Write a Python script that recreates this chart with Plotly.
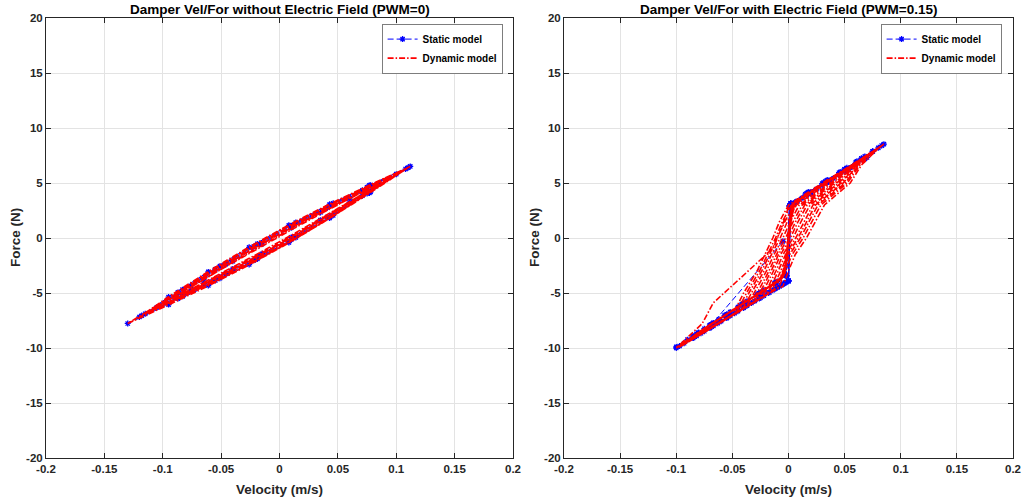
import plotly.graph_objects as go

# ================= Left panel (PWM = 0) =================
# static model: five hysteresis cycles (velocity m/s, force N)
vel_static_L = [
    -0.130, -0.095, -0.061, -0.026, 0.008, 0.043, 0.077, 0.112,
    0.077, 0.043, 0.008, -0.026, -0.061, -0.095,
    -0.120, -0.087, -0.055, -0.022, 0.010, 0.043, 0.075, 0.108,
    0.075, 0.043, 0.010, -0.022, -0.055, -0.087,
    -0.105, -0.076, -0.046, -0.017, 0.012, 0.041, 0.071, 0.100,
    0.071, 0.041, 0.012, -0.017, -0.046, -0.076,
    -0.090, -0.065, -0.040, -0.015, 0.010, 0.035, 0.060, 0.085,
    0.060, 0.035, 0.010, -0.015, -0.040, -0.065,
    -0.115, -0.083, -0.051, -0.019, 0.014, 0.046, 0.078, 0.110,
    0.078, 0.046, 0.014, -0.019, -0.051, -0.083, -0.118,
]
force_static_L = [
    -7.77, -6.05, -4.32, -2.41, -0.41, 1.82, 4.10, 6.51,
    4.78, 3.06, 1.15, -0.85, -3.08, -5.37,
    -7.18, -5.51, -3.86, -2.03, -0.14, 1.93, 4.05, 6.27,
    4.61, 2.95, 1.12, -0.77, -2.84, -4.95,
    -6.30, -4.82, -3.24, -1.63, 0.08, 1.89, 3.85, 5.80,
    4.33, 2.75, 1.14, -0.57, -2.38, -4.34,
    -5.41, -4.13, -2.81, -1.43, 0.05, 1.62, 3.25, 4.92,
    3.63, 2.32, 0.93, -0.55, -2.11, -3.75,
    -6.89, -5.30, -3.66, -1.90, 0.05, 2.06, 4.20, 6.39,
    4.80, 3.16, 1.41, -0.54, -2.56, -4.70, -7.05,
]

# dynamic model: eight cycles
vel_dyn_L = [
    -0.130, -0.095, -0.061, -0.026, 0.008, 0.043, 0.077, 0.112,
    0.077, 0.043, 0.008, -0.026, -0.061, -0.095,
    -0.120, -0.087, -0.055, -0.022, 0.010, 0.043, 0.075, 0.108,
    0.075, 0.043, 0.010, -0.022, -0.055, -0.087,
    -0.105, -0.076, -0.046, -0.017, 0.012, 0.041, 0.071, 0.100,
    0.071, 0.041, 0.012, -0.017, -0.046, -0.076,
    -0.090, -0.065, -0.040, -0.015, 0.010, 0.035, 0.060, 0.085,
    0.060, 0.035, 0.010, -0.015, -0.040, -0.065,
    -0.115, -0.083, -0.051, -0.019, 0.014, 0.046, 0.078, 0.110,
    0.078, 0.046, 0.014, -0.019, -0.051, -0.083,
    -0.130, -0.095, -0.061, -0.026, 0.008, 0.043, 0.077, 0.112,
    0.077, 0.043, 0.008, -0.026, -0.061, -0.095,
    -0.105, -0.076, -0.046, -0.017, 0.012, 0.041, 0.071, 0.100,
    0.071, 0.041, 0.012, -0.017, -0.046, -0.076,
    -0.115, -0.083, -0.051, -0.019, 0.014, 0.046, 0.078, 0.110,
    0.078, 0.046, 0.014, -0.019, -0.051, -0.083, -0.118,
]
force_dyn_L = [
    -7.77, -6.08, -4.36, -2.45, -0.45, 1.78, 4.07, 6.51,
    4.81, 3.10, 1.19, -0.81, -3.04, -5.34,
    -7.18, -5.55, -3.94, -2.13, -0.24, 1.85, 4.01, 6.27,
    4.65, 3.03, 1.22, -0.67, -2.76, -4.91,
    -6.30, -4.80, -3.20, -1.60, 0.10, 1.92, 3.88, 5.80,
    4.31, 2.72, 1.12, -0.59, -2.40, -4.36,
    -5.41, -4.09, -2.73, -1.33, 0.15, 1.70, 3.29, 4.92,
    3.59, 2.24, 0.83, -0.65, -2.19, -3.79,
    -6.89, -5.28, -3.62, -1.85, 0.10, 2.10, 4.22, 6.39,
    4.78, 3.12, 1.36, -0.59, -2.60, -4.72,
    -7.77, -5.90, -4.05, -2.07, -0.07, 2.09, 4.25, 6.51,
    4.63, 2.79, 0.81, -1.19, -3.35, -5.52,
    -6.30, -4.69, -3.01, -1.34, 0.37, 2.12, 3.98, 5.80,
    4.20, 2.52, 0.85, -0.86, -2.61, -4.47,
    -6.89, -5.34, -3.73, -2.00, -0.05, 1.99, 4.16, 6.39,
    4.84, 3.23, 1.51, -0.44, -2.49, -4.66, -7.05,
]

# ================= Right panel (PWM = 0.15) =================
vel_static_R = [
    -0.005, -0.068,
    -0.100, -0.085, -0.070, -0.055, -0.040, -0.025, -0.012, -0.003, 0.000,
    0.002, 0.015, 0.030, 0.045, 0.060, 0.075, 0.085,
    0.070, 0.055, 0.040, 0.025, 0.012, 0.003,
    -0.002, -0.012, -0.025, -0.040, -0.055, -0.070, -0.085,
    -0.093, -0.078, -0.063, -0.048, -0.033, -0.018, -0.008, -0.002, 0.000,
    0.002, 0.018, 0.034, 0.050, 0.065, 0.080,
    0.066, 0.050, 0.034, 0.018, 0.006, 0.001,
    -0.002, -0.010, -0.022, -0.037, -0.052, -0.067, -0.082,
    -0.085, -0.070, -0.055, -0.040, -0.026, -0.014, -0.005, 0.000,
    0.002, 0.016, 0.031, 0.046, 0.061, 0.075,
    0.060, 0.045, 0.030, 0.016, 0.005, 0.001,
    -0.002, -0.012, -0.026, -0.041, -0.056, -0.070,
    -0.075, -0.060, -0.045, -0.030, -0.017, -0.006, 0.000,
    0.002, 0.017, 0.033, 0.050, 0.065,
    0.050, 0.035, 0.020, 0.008, 0.001,
    -0.002, -0.012, -0.027, -0.042, -0.057, -0.075, -0.090,
    -0.097, -0.082, -0.067, -0.052, -0.037, -0.022, -0.010, -0.003, 0.000,
    0.002, 0.018, 0.035, 0.052, 0.068, 0.083,
    0.068, 0.052, 0.036, 0.020, 0.007, 0.001,
    -0.002, -0.012, -0.028, -0.045, -0.062, -0.080, -0.100,
]
force_static_R = [
    -0.30, -7.80,
    -10.00, -9.09, -8.17, -7.26, -6.34, -5.43, -4.63, -4.08, -3.90,
    3.13, 3.98, 4.95, 5.93, 6.90, 7.88, 8.53,
    7.33, 6.37, 5.41, 4.45, 3.62, 3.04,
    -3.43, -4.09, -4.95, -5.94, -6.93, -7.92, -8.91,
    -9.57, -8.66, -7.74, -6.83, -5.91, -5.00, -4.39, -4.02, -3.90,
    3.13, 4.17, 5.21, 6.25, 7.23, 8.20,
    7.07, 6.05, 5.03, 4.00, 3.23, 2.91,
    -3.43, -3.96, -4.75, -5.74, -6.73, -7.72, -8.71,
    -9.09, -8.17, -7.26, -6.34, -5.49, -4.75, -4.21, -3.90,
    3.13, 4.04, 5.02, 5.99, 6.97, 7.88,
    6.69, 5.73, 4.77, 3.87, 3.17, 2.91,
    -3.43, -4.09, -5.02, -6.01, -7.00, -7.92,
    -8.48, -7.56, -6.65, -5.73, -4.94, -4.27, -3.90,
    3.13, 4.11, 5.15, 6.25, 7.23,
    6.05, 5.09, 4.13, 3.36, 2.91,
    -3.43, -4.09, -5.08, -6.07, -7.06, -8.25, -9.24,
    -9.82, -8.90, -7.99, -7.07, -6.16, -5.24, -4.51, -4.08, -3.90,
    3.13, 4.17, 5.28, 6.38, 7.42, 8.40,
    7.20, 6.18, 5.15, 4.13, 3.30, 2.91,
    -3.43, -4.09, -5.15, -6.27, -7.39, -8.58, -9.90,
]

vel_dyn_R = [
    0.000, -0.006, -0.013, -0.022, -0.067, -0.077,
    -0.100, -0.080, -0.060, -0.032, -0.0243, -0.0154, -0.0089, -0.0005, 0.0064, 0.0144, 0.0413, 0.054, 0.085,
    0.060, 0.035, 0.015, 0.005, 0.001, -0.002, -0.006, -0.025, -0.050, -0.075,
    -0.095, -0.075, -0.050, -0.040, -0.028, -0.021, -0.014, -0.008, 0.000, 0.030, 0.045, 0.083,
    0.062, 0.038, 0.018, 0.006, 0.002, -0.001, -0.004, -0.015, -0.040, -0.068,
    -0.090, -0.065, -0.040, -0.014, -0.0085, -0.0028, 0.0033, 0.013, 0.0208, 0.0288, 0.0525, 0.063, 0.080,
    0.058, 0.032, 0.013, 0.004, 0.000, -0.003, -0.010, -0.030, -0.055, -0.075,
    -0.085, -0.065, -0.044, -0.0348, -0.0238, -0.017, -0.0095, -0.0032, 0.0048, 0.0338, 0.048, 0.078,
    0.055, 0.030, 0.012, 0.004, 0.001, -0.002, -0.005, -0.020, -0.045, -0.070,
    -0.080, -0.055, -0.020, -0.0138, -0.007, -0.0008, 0.0085, 0.016, 0.024, 0.0488, 0.060, 0.075,
    0.052, 0.028, 0.010, 0.003, 0.000, -0.003, -0.012, -0.035, -0.060, -0.078,
    -0.082, -0.060, -0.038, -0.0295, -0.0196, -0.0129, -0.005, 0.0016, 0.0096, 0.0375, 0.051, 0.072,
    0.050, 0.027, 0.011, 0.004, 0.001, -0.002, -0.006, -0.022, -0.048, -0.072,
    -0.088, -0.060, -0.026, -0.019, -0.0112, -0.0048, 0.004, 0.0112, 0.0192, 0.045, 0.057, 0.068,
    0.048, 0.026, 0.010, 0.003, 0.000, -0.003, -0.008, -0.028, -0.055, -0.080,
    -0.092, -0.070, -0.045, -0.010, -0.005, 0.000, 0.006, 0.016, 0.024, 0.032, 0.055, 0.065, 0.082,
    0.060, 0.034, 0.014, 0.005, 0.001, -0.002, -0.005, -0.020, -0.050, -0.080, -0.100,
    -0.096, -0.070, -0.0468, -0.0372, -0.0258, -0.0188, -0.0116, -0.0054, 0.0026, 0.032, 0.0466, 0.084,
    0.061, 0.036, 0.016, 0.005, 0.001, -0.002, -0.005, -0.022, -0.048, -0.072,
    -0.088, -0.065, -0.0412, -0.0323, -0.0218, -0.0151, -0.0074, -0.001, 0.007, 0.0355, 0.0494, 0.079,
    0.057, 0.031, 0.012, 0.004, 0.000, -0.003, -0.009, -0.030, -0.056, -0.078,
    -0.094, -0.065, -0.0348, -0.0267, -0.0174, -0.0107, -0.0026, 0.0042, 0.0122, 0.0395, 0.0526, 0.081,
    0.059, 0.033, 0.014, 0.005, 0.001, -0.002, -0.007, -0.026, -0.052, -0.074,
    -0.083, -0.055, -0.0292, -0.0218, -0.0134, -0.007, 0.0016, 0.0086, 0.0166, 0.043, 0.0554, 0.076,
    0.054, 0.029, 0.011, 0.004, 0.000, -0.003, -0.011, -0.033, -0.058, -0.076,
    -0.078, -0.050, -0.0228, -0.0162, -0.009, -0.0026, 0.0064, 0.0138, 0.0218, 0.047, 0.0586, 0.073,
    0.052, 0.027, 0.010, 0.003, 0.001, -0.001, -0.004, -0.018, -0.044, -0.070,
    -0.098, -0.060, -0.0172, -0.0113, -0.005, 0.0011, 0.0106, 0.0182, 0.0262, 0.0505, 0.0614, 0.084,
    0.062, 0.037, 0.016, 0.006, 0.001, -0.002, -0.006, -0.024, -0.050, -0.078, -0.100,
]
force_dyn_R = [
    2.80, 1.00, -0.80, -1.70, -5.90, -7.80,
    -10.00, -8.78, -7.56, -5.95, -4.73, -3.00, -1.50, 0.00, 1.50, 3.00, 5.00, 6.24, 8.53,
    6.85, 5.20, 3.90, 3.20, 0.80, -2.50, -3.70, -4.90, -6.60, -8.20,
    -9.70, -8.48, -7.05, -5.00, -3.00, -1.50, 0.00, 1.50, 3.00, 5.00, 5.93, 8.40,
    6.90, 5.35, 4.05, 3.30, 1.60, -1.20, -3.30, -4.30, -5.95, -7.75,
    -9.39, -7.87, -6.34, -4.85, -4.46, -3.00, -1.50, 0.00, 1.50, 3.00, 5.00, 6.56, 8.20,
    6.60, 4.95, 3.75, 3.10, 0.20, -3.00, -4.00, -5.30, -6.95, -8.30,
    -9.09, -7.87, -6.68, -4.91, -3.00, -1.50, 0.00, 1.50, 3.00, 5.00, 6.03, 8.07,
    6.40, 4.80, 3.65, 3.10, 1.20, -2.00, -3.50, -4.60, -6.25, -7.90,
    -8.78, -7.26, -5.22, -4.55, -3.00, -1.50, 0.00, 1.50, 3.00, 5.00, 6.45, 7.88,
    6.20, 4.65, 3.50, 3.00, -0.30, -3.10, -4.10, -5.60, -7.25, -8.45,
    -8.90, -7.56, -6.32, -4.82, -3.00, -1.50, 0.00, 1.50, 3.00, 5.00, 6.14, 7.68,
    6.05, 4.60, 3.55, 3.10, 1.50, -1.60, -3.60, -4.75, -6.45, -8.00,
    -9.27, -7.56, -5.59, -4.64, -3.00, -1.50, 0.00, 1.50, 3.00, 5.00, 6.35, 7.42,
    5.95, 4.55, 3.50, 3.00, 0.50, -2.90, -3.90, -5.10, -6.90, -8.55,
    -9.51, -8.17, -6.65, -4.61, -4.40, -3.00, -1.50, 0.00, 1.50, 3.00, 5.00, 6.63, 8.33,
    6.75, 5.10, 3.85, 3.20, 1.00, -2.20, -3.50, -4.60, -6.60, -8.55, -9.95,
    -9.76, -8.27, -6.85, -4.95, -3.00, -1.50, 0.00, 1.50, 3.00, 5.00, 5.98, 8.46,
    6.90, 5.25, 3.95, 3.25, 1.30, -2.30, -3.60, -4.70, -6.45, -8.05,
    -9.37, -7.97, -6.51, -4.87, -3.00, -1.50, 0.00, 1.50, 3.00, 5.00, 6.08, 8.14,
    6.55, 4.90, 3.70, 3.10, 0.00, -2.80, -3.95, -5.30, -7.00, -8.45,
    -9.73, -7.97, -6.12, -4.77, -3.00, -1.50, 0.00, 1.50, 3.00, 5.00, 6.19, 8.27,
    6.75, 5.00, 3.80, 3.20, 0.60, -2.60, -3.80, -5.00, -6.75, -8.15,
    -9.06, -7.36, -5.78, -4.69, -3.00, -1.50, 0.00, 1.50, 3.00, 5.00, 6.29, 7.94,
    6.35, 4.75, 3.60, 3.05, -0.60, -3.20, -4.05, -5.50, -7.10, -8.35,
    -8.76, -7.05, -5.39, -4.59, -3.00, -1.50, 0.00, 1.50, 3.00, 5.00, 6.40, 7.75,
    6.20, 4.60, 3.50, 3.00, 1.80, -1.40, -3.40, -4.45, -6.20, -7.90,
    -9.98, -7.66, -5.05, -4.51, -3.00, -1.50, 0.00, 1.50, 3.00, 5.00, 6.50, 8.46,
    6.95, 5.30, 3.95, 3.30, 0.90, -2.40, -3.70, -4.85, -6.55, -8.45, -9.95,
]

# ================= Axis ticks and texts =================
x_ticks = [-0.2, -0.15, -0.1, -0.05, 0, 0.05, 0.1, 0.15, 0.2]
x_tick_text = ["-0.2", "-0.15", "-0.1", "-0.05", "0", "0.05", "0.1", "0.15", "0.2"]
y_ticks = [-20, -15, -10, -5, 0, 5, 10, 15, 20]
y_tick_text = ["-20", "-15", "-10", "-5", "0", "5", "10", "15", "20"]
titles = ["Damper Vel/For without Electric Field (PWM=0)",
          "Damper Vel/For with Electric Field (PWM=0.15)"]
x_label = "Velocity (m/s)"
y_label = "Force (N)"
series_names = ["Static model", "Dynamic model"]

FONT = "Liberation Sans, Arial, Helvetica, sans-serif"
W, H = 1024, 502

fig = go.Figure()

panels = [
    (vel_static_L, force_static_L, vel_dyn_L, force_dyn_L, "x", "y", "legend"),
    (vel_static_R, force_static_R, vel_dyn_R, force_dyn_R, "x2", "y2", "legend2"),
]
for vs, fs, vd, fd, xa, ya, lg in panels:
    fig.add_trace(go.Scatter(
        x=vs, y=fs, mode="lines+markers", name=series_names[0],
        line=dict(color="#0000ff", width=1, dash="6px,3px"),
        marker=dict(symbol="asterisk-open", size=5, color="#0000ff",
                    line=dict(color="#0000ff", width=1.3)),
        xaxis=xa, yaxis=ya, legend=lg))
    fig.add_trace(go.Scatter(
        x=vd, y=fd, mode="lines", name=series_names[1],
        line=dict(color="#ff0000", width=1.6, dash="6px,2px,1.5px,2px"),
        xaxis=xa, yaxis=ya, legend=lg))

ydom = [(H - 458) / H, (H - 18) / H]
xdoms = [[46 / W, 513 / W], [564 / W, 1013 / W]]

axis_common = dict(
    showline=True, linecolor="#262626", linewidth=1, mirror="ticks",
    ticks="inside", ticklen=5, tickcolor="#262626", automargin=False,
    showgrid=True, gridcolor="#e3e3e3", gridwidth=1, zeroline=False,
    tickfont=dict(family=FONT, size=11.5, color="#262626", weight="bold"),
)

layout = dict(
    width=W, height=H, margin=dict(l=0, r=0, t=0, b=0),
    paper_bgcolor="white", plot_bgcolor="white",
    font=dict(family=FONT, color="#262626"),
    showlegend=True,
)
for i, (xa, ya) in enumerate([("xaxis", "yaxis"), ("xaxis2", "yaxis2")]):
    sfx = "" if i == 0 else "2"
    layout[xa] = dict(axis_common, domain=xdoms[i], range=[-0.2, 0.2],
                      tickvals=x_ticks, ticktext=x_tick_text,
                      anchor="y" + sfx)
    layout[ya] = dict(axis_common, domain=ydom, range=[-20, 20],
                      tickvals=y_ticks, ticktext=y_tick_text,
                      anchor="x" + sfx)

leg_common = dict(
    bgcolor="white", bordercolor="#262626", borderwidth=0.6,
    font=dict(family=FONT, size=10, color="black", weight="bold"),
    xanchor="right", yanchor="top", tracegroupgap=0,
    itemwidth=30,
)
layout["legend"] = dict(leg_common, x=503 / W, y=1 - 24 / H)
layout["legend2"] = dict(leg_common, x=1002 / W, y=1 - 24 / H)
fig.update_layout(**layout)

annos = []
for i in range(2):
    cx = (xdoms[i][0] + xdoms[i][1]) / 2
    annos.append(dict(text=titles[i], x=cx, y=1 - 10 / H, xref="paper", yref="paper",
                      xanchor="center", yanchor="middle", showarrow=False,
                      font=dict(family=FONT, size=13.5, color="black", weight="bold")))
    annos.append(dict(text=x_label, x=cx, y=1 - 489 / H, xref="paper", yref="paper",
                      xanchor="center", yanchor="middle", showarrow=False,
                      font=dict(family=FONT, size=13.5, color="#262626", weight="bold")))
annos.append(dict(text=y_label, x=15 / W, y=1 - 238 / H, xref="paper", yref="paper",
                  xanchor="center", yanchor="middle", showarrow=False, textangle=-90,
                  font=dict(family=FONT, size=13.5, color="#262626", weight="bold")))
annos.append(dict(text=y_label, x=534 / W, y=1 - 238 / H, xref="paper", yref="paper",
                  xanchor="center", yanchor="middle", showarrow=False, textangle=-90,
                  font=dict(family=FONT, size=13.5, color="#262626", weight="bold")))
fig.update_layout(annotations=annos)

fig.write_html("out.html")
